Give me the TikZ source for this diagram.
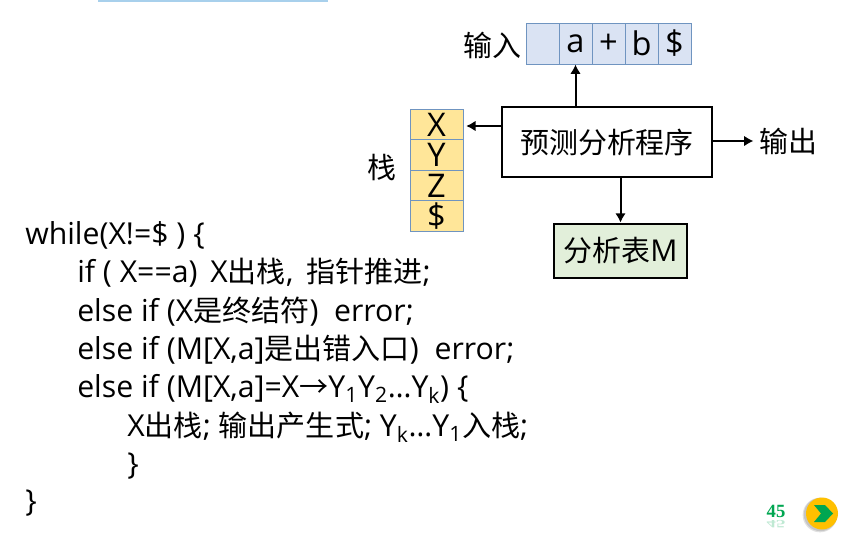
\documentclass[tikz,border=0pt]{standalone}
\usepackage{fontspec}
\setmainfont[Scale=1.04]{Open Sans}
\newfontfamily\cjk{Noto Sans CJK SC}
\newfontfamily\pagefont{Liberation Serif}
\usepackage{tikz}
\usepackage{xcolor}
\usetikzlibrary{arrows.meta}
\definecolor{cell-blue}{HTML}{DAE3F3}
\definecolor{cell-yellow}{HTML}{FFE699}
\definecolor{cell-line}{HTML}{6F94C0}
\definecolor{table-green}{HTML}{E2EFDA}
\definecolor{page-green}{HTML}{00A651}
\definecolor{button-yellow}{HTML}{FFC000}
\definecolor{top-bar}{HTML}{A8D0EC}
\tikzset{
    big-text/.style = {font=\fontsize{21.7}{22}\selectfont, text=black, inner sep=0pt},
    cell-text/.style = {font=\fontsize{23.5}{24}\selectfont, text=black, inner sep=0pt},
    input-cell/.style = {draw=cell-line, fill=cell-blue, line width=0.75pt, cell-text, minimum width=24.75pt, minimum height=30.75pt},
    stack-cell/.style = {draw=cell-line, fill=cell-yellow, line width=0.75pt, cell-text, minimum width=39.75pt, minimum height=22.75pt},
    black-box/.style = {draw=black, line width=1.6pt, big-text},
    code-line/.style = {font=\fontsize{21.8}{22}\selectfont, text=black, inner sep=0pt, anchor=base west},
    flow-arrow/.style = {draw=black, line width=1.5pt, -{Latex[length=7pt,width=8pt]}},
    page-text/.style = {font=\pagefont\bfseries\fontsize{14}{14}\selectfont, text=page-green, inner sep=0pt},
}

\begin{document}
\begin{tikzpicture}[x=0.75pt,y=-0.75pt]
\useasboundingbox (0,0) rectangle (841,532);
\fill[top-bar] (98,0) rectangle (328,1.5);

% input tape
\node[input-cell] (in0) at (542.5,43.5) {};
\node[input-cell] (in1) at (575.5,43.5) {a};
\node[input-cell] (in2) at (608.5,43.5) {+};
\node[input-cell] (in3) at (641.5,43.5) {b};
\node[input-cell] (in4) at (674.5,43.5) {\$};
\node[big-text] (in-label) at (492,45) {\cjk 输入};

% stack
\node[stack-cell] (st0) at (436.5,124.5) {X};
\node[stack-cell] (st1) at (436.5,155) {Y};
\node[stack-cell] (st2) at (436.5,185.5) {Z};
\node[stack-cell] (st3) at (436.5,216) {\$};
\node[big-text] (st-label) at (382,168) {\cjk 栈};

% driver and table
\node[black-box, minimum width=157pt, minimum height=52pt] (prog) at (607,142) {\cjk 预测分析程序};
\node[black-box, fill=table-green, minimum width=100pt, minimum height=41pt] (table) at (620.5,251) {{\cjk 分析表}M};
\node[big-text] (out-label) at (788,141) {\cjk 输出};

\draw[flow-arrow] (prog.north -| in1.south) -- (in1.south);
\draw[flow-arrow, shorten >=2pt] (prog.west |- 0,126) -- (st0.east |- 0,126);
\draw[flow-arrow, shorten >=4pt] (prog.east |- out-label) -- (out-label.west);
\draw[flow-arrow] (prog.south -| table.north) -- (table.north);

% code
\node[code-line] (line1) at (25,244) {while(X!=\$ ) \{};
\node[code-line] (line2) at (77,282) {if ( X==a) \,X{\cjk 出栈}, \,{\cjk 指针推进};};
\node[code-line] (line3) at (77,321) {else if (X{\cjk 是终结符})\ \ error;};
\node[code-line] (line4) at (77,359) {else if (M[X,a]{\cjk 是出错入口})\ \ error;};
\node[code-line] (line5) at (77,397) {else if (M[X,a]=X{\cjk →}Y\textsubscript{1}Y\textsubscript{2}…Y\textsubscript{k}) \{};
\node[code-line] (line6) at (127,436) {X{\cjk 出栈}; {\cjk 输出产生式}; Y\textsubscript{k}…Y\textsubscript{1}{\cjk 入栈};};
\node[code-line] (line7) at (127,474) {\}};
\node[code-line] (line8) at (25,511) {\}};

% page number and button
\node[page-text] (page-num) at (776,511) {45};
\node[page-text, opacity=0.25, yscale=-0.6] (page-ref) at (776,524) {45};
\fill[black, opacity=0.12] (820,515) circle (13pt);
\fill[black, opacity=0.12] (820.5,514.5) circle (12.5pt);
\node[circle, fill=button-yellow, minimum size=24pt, inner sep=0pt] (next) at (822,513.5) {};
\fill[page-green] (814,505) -- (825,505) -- (833,513.5) -- (825,522) -- (814,522) -- (821,513.5) -- cycle;
\end{tikzpicture}
\end{document}
